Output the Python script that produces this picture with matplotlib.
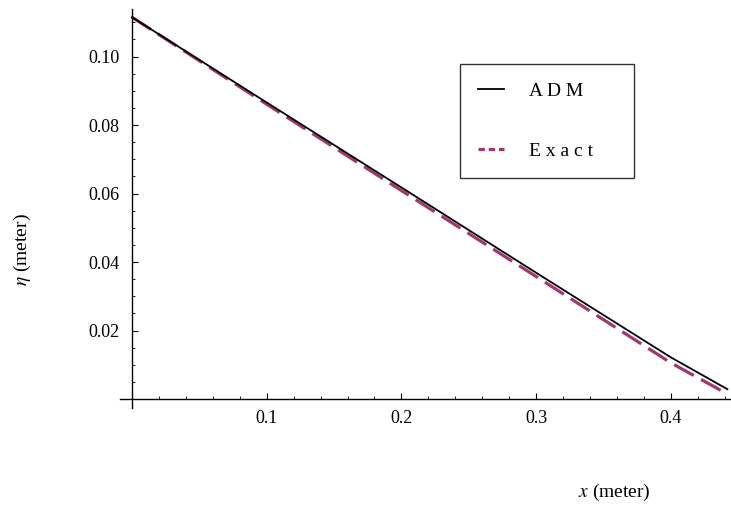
import numpy as np
import matplotlib
matplotlib.use("Agg")
import matplotlib.pyplot as plt
from matplotlib.lines import Line2D
from matplotlib.ticker import MultipleLocator, FixedLocator

## Data
x_adm = [0.0, 0.1, 0.2, 0.3, 0.4, 0.442]
eta_adm = [0.1115, 0.0866, 0.0618, 0.0369, 0.0122, 0.0029]
x_exact = [0.0, 0.1, 0.2, 0.3, 0.4, 0.442]
eta_exact = [0.1115, 0.0861, 0.0609, 0.0358, 0.0106, 0.0015]

x_ticks = [0.1, 0.2, 0.3, 0.4]
y_ticks = [0.02, 0.04, 0.06, 0.08, 0.10]
series_names = ["A D M", "E x a c t"]

plt.rcParams['font.family'] = ['Liberation Serif', 'DejaVu Serif']
plt.rcParams['mathtext.fontset'] = 'stix'

W, H = 731, 508
fig = plt.figure(figsize=(W / 100, H / 100), dpi=100)
# axes box in pixels: left 120, right 731, top 9, bottom 408
ax = fig.add_axes([120 / W, 1 - 408 / H, 611 / W, 399 / H])

purple = '#a0386e'
ax.plot(x_adm, eta_adm, color='black', lw=1.3, zorder=3)
ax.plot(x_exact, eta_exact, color=purple, lw=2.3, dashes=(7, 2.6), zorder=2)

ax.set_xlim(-0.0089, 0.4447)
ax.set_ylim(-0.0026, 0.1139)

# axes through origin, Mathematica-style
for s in ['top', 'right']:
    ax.spines[s].set_visible(False)
ax.spines['left'].set_position(('data', 0))
ax.spines['bottom'].set_position(('data', 0))
for s in ['left', 'bottom']:
    ax.spines[s].set_linewidth(1.0)

ax.xaxis.set_major_locator(FixedLocator(x_ticks))
ax.xaxis.set_minor_locator(MultipleLocator(0.02))
ax.yaxis.set_major_locator(FixedLocator(y_ticks))
ax.yaxis.set_minor_locator(MultipleLocator(0.005))
ax.set_xticklabels([f"{v:.1f}" for v in x_ticks])
ax.set_yticklabels([f"{v:.2f}" for v in y_ticks])
ax.tick_params(which='major', direction='in', length=4.5, width=0.8, labelsize=13)
ax.tick_params(which='minor', direction='in', length=2.5, width=0.6)
ax.tick_params(axis='y', which='major', pad=9)
ax.tick_params(axis='x', which='major', pad=8)

fig.text(22 / W, 1 - 250 / H, r"$\eta$ (meter)", rotation=90, ha='center', va='center', fontsize=14)
fig.text(614 / W, 1 - 492 / H, r"$x$ (meter)", ha='center', va='center', fontsize=14)

# legend box: x 460..634, y 64..173 px
handles = [Line2D([], [], color='black', lw=1.3),
           Line2D([], [], color=purple, lw=2.3, dashes=(2, 1.2))]
leg = fig.legend(handles, series_names, loc='upper left',
                 bbox_to_anchor=(460 / W, 1 - 173 / H, 174 / W, 109 / H), mode='expand',
                 frameon=True, fancybox=False, fontsize=14, borderaxespad=0,
                 borderpad=0.95, labelspacing=2.15, handlelength=1.3, handletextpad=1.3)
leg.get_frame().set_edgecolor('black')
leg.get_frame().set_linewidth(1.0)

fig.savefig("out.png", dpi=100)
